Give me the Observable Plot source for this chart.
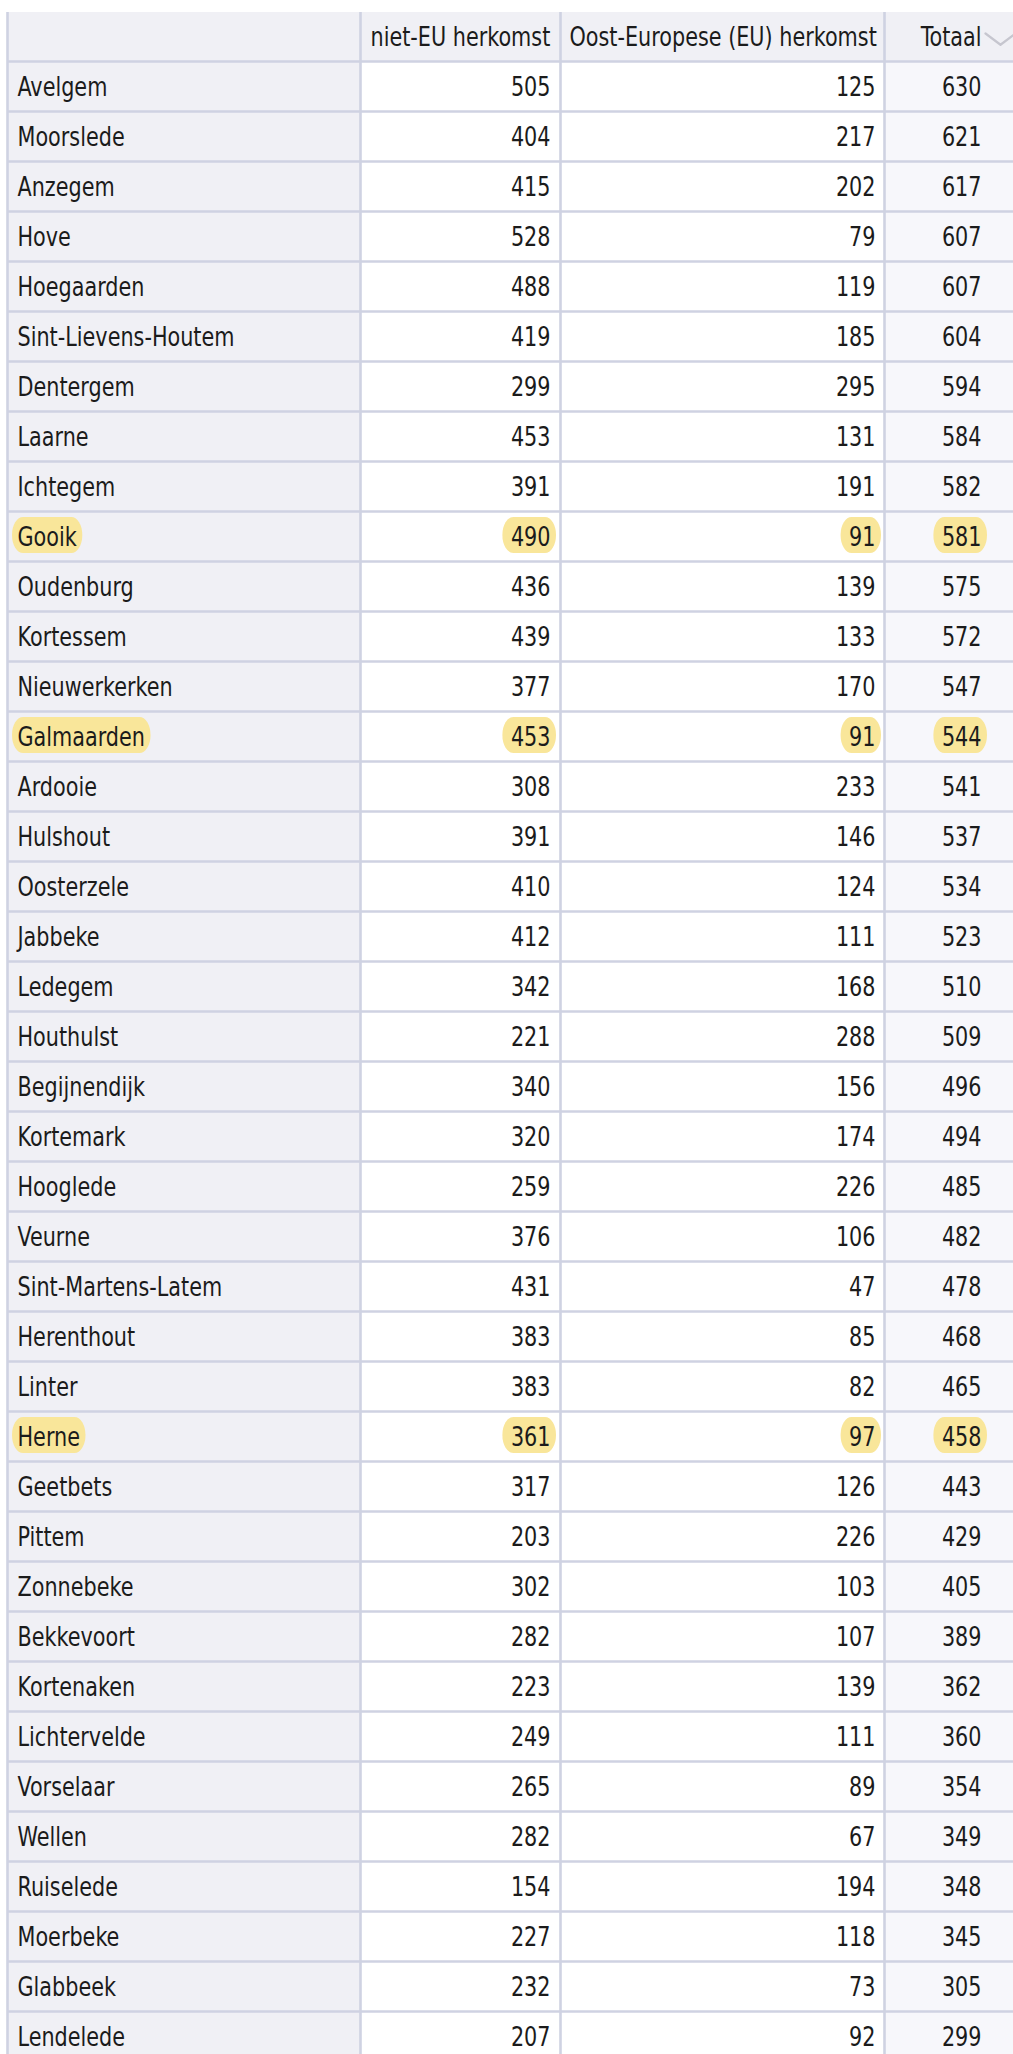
<!DOCTYPE html>
<html>
<head>
<meta charset="utf-8">
<script src="https://cdn.jsdelivr.net/npm/d3@7"></script>
<script src="https://cdn.jsdelivr.net/npm/@observablehq/plot@0.6"></script>
<style>
html, body { margin: 0; padding: 0; background: #fff; overflow: hidden; }
#chart svg { display: block; }
</style>
</head>
<body>
<div id="chart"></div>
<script>
// ---------- DATA ----------
const headers = ["niet-EU herkomst", "Oost-Europese (EU) herkomst", "Totaal"];
const gemeenten = ["Avelgem","Moorslede","Anzegem","Hove","Hoegaarden","Sint-Lievens-Houtem","Dentergem","Laarne","Ichtegem","Gooik","Oudenburg","Kortessem","Nieuwerkerken","Galmaarden","Ardooie","Hulshout","Oosterzele","Jabbeke","Ledegem","Houthulst","Begijnendijk","Kortemark","Hooglede","Veurne","Sint-Martens-Latem","Herenthout","Linter","Herne","Geetbets","Pittem","Zonnebeke","Bekkevoort","Kortenaken","Lichtervelde","Vorselaar","Wellen","Ruiselede","Moerbeke","Glabbeek","Lendelede"];
const nietEU = [505,404,415,528,488,419,299,453,391,490,436,439,377,453,308,391,410,412,342,221,340,320,259,376,431,383,383,361,317,203,302,282,223,249,265,282,154,227,232,207];
const oostEU = [125,217,202,79,119,185,295,131,191,91,139,133,170,91,233,146,124,111,168,288,156,174,226,106,47,85,82,97,126,226,103,107,139,111,89,67,194,118,73,92];
const totaal = [630,621,617,607,607,604,594,584,582,581,575,572,547,544,541,537,534,523,510,509,496,494,485,482,478,468,465,458,443,429,405,389,362,360,354,349,348,345,305,299];
const gemarkeerd = ["Gooik","Galmaarden","Herne"];

// ---------- LAYOUT / STYLE ----------
const W = 1013, H = 2054;
const FONT = '"DejaVu Sans Condensed", "Liberation Sans Narrow", sans-serif';
const FS = 27;
const SQUEEZE = 0.855; // horizontal compression to mimic a narrow face
const TOP = 12, ROW_H = 50, NROWS = gemeenten.length + 1;
const GRID = "#cfd2e2", TEXT = "#1b1b1b", PILL = "#f9e69a";
const cols = [
  {key: "gemeente", x1: 7,   x2: 360,  bg: "#f0f0f5", anchor: "start", tx: 17},
  {key: "nietEU",   x1: 360, x2: 560,  bg: "#ffffff", anchor: "end",   tx: 550},
  {key: "oostEU",   x1: 560, x2: 884,  bg: "#ffffff", anchor: "end",   tx: 875},
  {key: "totaal",   x1: 884, x2: W,    bg: "#f7f7fb", anchor: "end",   tx: 981}
];
const headerCols = [
  {text: headers[0], x: 370, anchor: "start"},
  {text: headers[1], x: 569, anchor: "start"},
  {text: headers[2], x: 981, anchor: "end"}
];
const sortIcon = [{x: 985, y: 0.42}, {x: 1000, y: 0.645}, {x: 1015, y: 0.42}];

const ctx = document.createElement("canvas").getContext("2d");
ctx.font = `${FS}px ${FONT}`;
const measure = (t) => ctx.measureText(t).width * SQUEEZE;

// ---------- TABLE BUILD ----------
const rows = gemeenten.map((g, i) => ({
  gemeente: g, nietEU: nietEU[i], oostEU: oostEU[i], totaal: totaal[i],
  row: i + 1, hl: gemarkeerd.includes(g)
}));
const cells = rows.flatMap(r => cols.map(c => ({row: r.row, hl: r.hl, col: c, text: String(r[c.key])})));
const pills = cells.filter(d => d.hl).map(d => {
  const w = measure(d.text);
  return d.col.anchor === "start"
    ? {row: d.row, x1: d.col.tx - 5, x2: d.col.tx + w + 6}
    : {row: d.row, x1: d.col.tx - w - 8, x2: d.col.tx + 6};
});
const backgrounds = [
  {x1: cols[0].x1, x2: W, y1: 0, y2: 1, fill: "#f0f0f5"},
  ...cols.map(c => ({x1: c.x1, x2: c.x2, y1: 1, y2: NROWS, fill: c.bg}))
];

const chart = Plot.plot({
  width: W, height: H,
  marginTop: 0, marginBottom: 0, marginLeft: 0, marginRight: 0,
  x: {domain: [0, W], range: [0, W], axis: null},
  y: {domain: [0, NROWS], range: [TOP, TOP + NROWS * ROW_H], axis: null},
  style: {background: "#fff", fontFamily: FONT, fontSize: FS + "px", overflow: "hidden"},
  marks: [
    Plot.rect(backgrounds, {x1: "x1", x2: "x2", y1: "y1", y2: "y2", fill: d => d.fill}),
    Plot.rect(pills, {x1: "x1", x2: "x2", y1: d => d.row + 5 / ROW_H, y2: d => d.row + 41 / ROW_H, fill: PILL, rx: 11, ry: 18}),
    Plot.ruleY(d3.range(1, NROWS + 1), {y: d => d, x1: cols[0].x1, x2: W, stroke: GRID, strokeWidth: 2.6, dy: -1}),
    Plot.ruleX(cols.map(c => c.x1), {x: d => d, y1: 0, y2: NROWS, stroke: GRID, strokeWidth: 2.6}),
    Plot.text(headerCols.filter(h => h.anchor === "start"), {x: "x", y: () => 0.5, text: "text", textAnchor: "start", fill: TEXT, fontSize: FS, fontFamily: FONT}),
    Plot.text(headerCols.filter(h => h.anchor === "end"), {x: "x", y: () => 0.5, text: "text", textAnchor: "end", fill: TEXT, fontSize: FS, fontFamily: FONT}),
    Plot.line(sortIcon, {x: "x", y: "y", stroke: "#c6c6cf", strokeWidth: 2.2, curve: "linear"}),
    Plot.text(cells.filter(d => d.col.anchor === "start"), {x: d => d.col.tx, y: d => d.row + 0.5, text: "text", textAnchor: "start", fill: TEXT, fontSize: FS, fontFamily: FONT}),
    Plot.text(cells.filter(d => d.col.anchor === "end"), {x: d => d.col.tx, y: d => d.row + 0.5, text: "text", textAnchor: "end", fill: TEXT, fontSize: FS, fontFamily: FONT})
  ]
});
document.getElementById("chart").appendChild(chart);

// condense every label horizontally around its anchor (narrow face is not installed)
d3.select(chart).selectAll("text").each(function () {
  const t = this.getAttribute("transform");
  if (t && /translate/.test(t)) {
    this.setAttribute("transform", t + ` scale(${SQUEEZE},1)`);
  } else {
    const x = +this.getAttribute("x") || 0;
    this.setAttribute("transform", `translate(${x},0) scale(${SQUEEZE},1) translate(${-x},0)` + (t ? " " + t : ""));
  }
});
</script>
</body>
</html>
